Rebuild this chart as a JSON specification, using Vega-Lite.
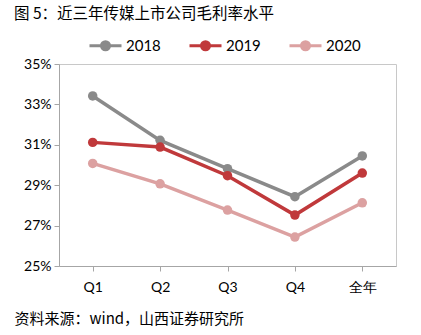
{
  "$schema": "https://vega.github.io/schema/vega-lite/v6.json",
  "width": 337,
  "height": 202,
  "autosize": "none",
  "padding": {"left": 59, "top": 64, "right": 25, "bottom": 69},
  "background": "white",
  "title": {
    "text": "图 5：近三年传媒上市公司毛利率水平",
    "anchor": "start",
    "frame": "group",
    "font": "Noto Sans CJK SC",
    "fontSize": 15.5,
    "fontWeight": "normal",
    "color": "#000000",
    "dx": -45,
    "offset": 6
  },
  "config": {
    "view": {"stroke": "#c8c8c8", "strokeWidth": 1},
    "axis": {"grid": false, "domainColor": "#a6a6a6", "tickColor": "#a6a6a6", "labelColor": "#000000", "labelFont": "Lato", "labelFontSize": 14}
  },
  "data": {
    "values": [
      {"q": "Q1", "year": "2018", "v": 33.42},
      {"q": "Q2", "year": "2018", "v": 31.22},
      {"q": "Q3", "year": "2018", "v": 29.82},
      {"q": "Q4", "year": "2018", "v": 28.43},
      {"q": "全年", "year": "2018", "v": 30.45},
      {"q": "Q1", "year": "2019", "v": 31.12},
      {"q": "Q2", "year": "2019", "v": 30.89},
      {"q": "Q3", "year": "2019", "v": 29.47},
      {"q": "Q4", "year": "2019", "v": 27.52},
      {"q": "全年", "year": "2019", "v": 29.6},
      {"q": "Q1", "year": "2020", "v": 30.08},
      {"q": "Q2", "year": "2020", "v": 29.07},
      {"q": "Q3", "year": "2020", "v": 27.77},
      {"q": "Q4", "year": "2020", "v": 26.43},
      {"q": "全年", "year": "2020", "v": 28.13}
    ]
  },
  "encoding": {
    "x": {
      "field": "q", "type": "nominal", "sort": null,
      "scale": {"paddingInner": 0, "paddingOuter": 0},
      "axis": {
        "labelAngle": 0, "labelPadding": 9, "tickSize": 5, "bandPosition": 0,
        "title": "资料来源：wind，山西证券研究所",
        "titleAnchor": "start", "titleX": -45, "titleY": 52, "titleBaseline": "middle",
        "titleFont": "Noto Sans CJK SC", "titleFontSize": 15, "titleFontWeight": "normal", "titleColor": "#000000"
      }
    },
    "y": {
      "field": "v", "type": "quantitative",
      "scale": {"domain": [25, 35], "nice": false, "zero": false},
      "axis": {"values": [25, 27, 29, 31, 33, 35], "labelExpr": "datum.value + '%'", "title": null, "tickSize": 5, "labelPadding": 3}
    },
    "color": {
      "field": "year", "type": "nominal",
      "scale": {"domain": ["2018", "2019", "2020"], "range": ["#8a8a8a", "#c0393b", "#dca1a1"]},
      "legend": {
        "orient": "none", "direction": "horizontal", "title": null,
        "legendX": 29, "legendY": -36,
        "symbolType": "M-1,0H1M-0.25,0A0.25,0.25 0 1,0 0.25,0A0.25,0.25 0 1,0 -0.25,0",
        "symbolSize": 1024, "symbolStrokeWidth": 3,
        "labelFont": "Lato", "labelFontSize": 15, "labelColor": "#000000",
        "columnPadding": 22, "labelOffset": 3
      }
    }
  },
  "layer": [
    {"mark": {"type": "line", "strokeWidth": 3.5}},
    {"mark": {"type": "point", "filled": true, "size": 90, "opacity": 1}}
  ]
}
